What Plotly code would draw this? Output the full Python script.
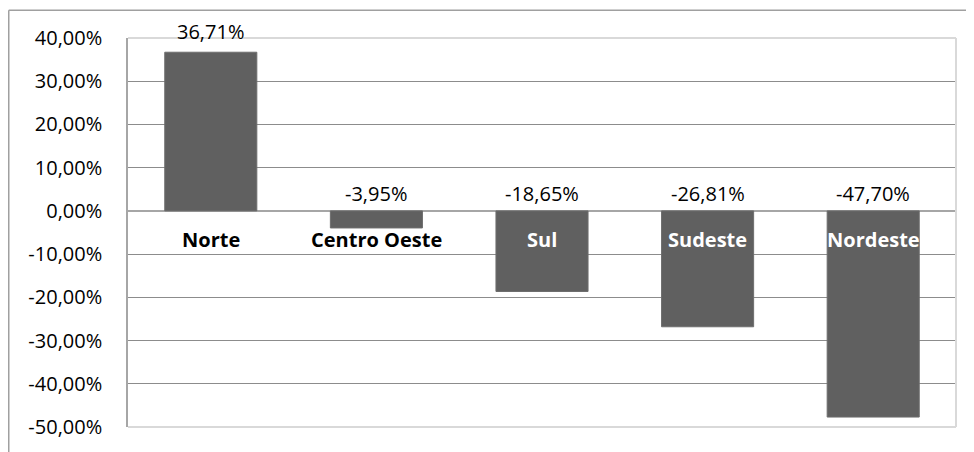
import plotly.graph_objects as go

categories = ["Norte", "Centro Oeste", "Sul", "Sudeste", "Nordeste"]
values = [0.3671, -0.0395, -0.1865, -0.2681, -0.4770]
value_labels = ["36,71%", "-3,95%", "-18,65%", "-26,81%", "-47,70%"]
y_ticks = [0.4, 0.3, 0.2, 0.1, 0.0, -0.1, -0.2, -0.3, -0.4, -0.5]
y_tick_labels = ["40,00%", "30,00%", "20,00%", "10,00%", "0,00%",
                 "-10,00%", "-20,00%", "-30,00%", "-40,00%", "-50,00%"]

FONT = "Open Sans"
BAR = "#606060"

L, R, T, B = 120, 18, 30, 21
W, H = 966, 444
PW, PH = W - L - R, H - T - B

fig = go.Figure()
fig.add_trace(go.Bar(
    x=categories, y=values,
    marker=dict(color=BAR, line=dict(color="#6e6e6e", width=1)),
    hoverinfo="skip",
))

annotations = []
for c, v, lab in zip(categories, values, value_labels):
    annotations.append(dict(
        x=c, y=max(v, 0), xref="x", yref="y", text=lab, showarrow=False,
        yanchor="bottom", yshift=5 if v > 0 else 2,
        font=dict(family=FONT, size=20, color="#000000"),
    ))
    annotations.append(dict(
        x=c, y=0, xref="x", yref="y", text="<b>%s</b>" % c, showarrow=False,
        yanchor="middle", yshift=-29,
        font=dict(family=FONT, size=20, color="#ffffff" if v < -0.08 else "#000000"),
    ))

fx_left = (0.75 - L) / PW
fy_top = 1 + (T - 2) / PH
shapes = [
    dict(type="line", xref="paper", yref="paper", x0=0, x1=1, y0=1, y1=1,
         line=dict(color="#d9d9d9", width=2), layer="above"),
    dict(type="line", xref="paper", yref="paper", x0=1, x1=1, y0=0, y1=1,
         line=dict(color="#d9d9d9", width=2), layer="above"),
    dict(type="line", xref="paper", yref="paper", x0=0, x1=1, y0=0, y1=0,
         line=dict(color="#d9d9d9", width=2), layer="above"),
    dict(type="line", xref="paper", yref="paper", x0=fx_left, x1=fx_left, y0=-0.2, y1=fy_top,
         line=dict(color="#a0a0a0", width=1.5)),
    dict(type="line", xref="paper", yref="paper", x0=fx_left, x1=1.1, y0=fy_top, y1=fy_top,
         line=dict(color="#a0a0a0", width=1.5)),
]

fig.update_layout(
    width=W, height=H,
    margin=dict(l=L, r=R, t=T, b=B),
    paper_bgcolor="white", plot_bgcolor="white",
    showlegend=False,
    bargap=0.444,
    font=dict(family=FONT, size=20, color="#000000"),
    annotations=annotations,
    shapes=shapes,
    xaxis=dict(range=[-0.5, 4.5], showticklabels=False, showgrid=False,
               zeroline=False, showline=False, ticks=""),
    yaxis=dict(range=[-0.5, 0.4], tickvals=y_ticks, ticktext=y_tick_labels,
               showgrid=True, gridcolor="#8c8c8c", gridwidth=1,
               zeroline=True, zerolinecolor="#a6a6a6", zerolinewidth=1.5,
               showline=True, linecolor="#a6a6a6", linewidth=1.5,
               ticks="", ticklabelstandoff=20,
               tickfont=dict(family=FONT, size=20, color="#000000")),
)

fig.write_html("out.html")
